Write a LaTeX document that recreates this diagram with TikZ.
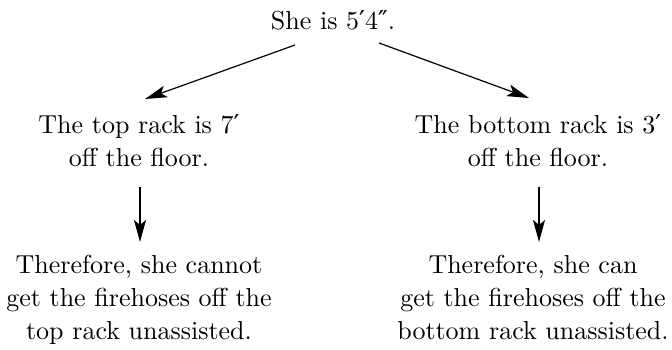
\documentclass[tikz,border=0pt]{standalone}
\usepackage{fontspec}
\setmainfont{lmroman10-regular.otf}
\newfontfamily\symf{DejaVu Serif}
\newcommand{\pr}{{\symf\fontsize{26}{26}\selectfont ′}}
\newcommand{\dpr}{{\symf\fontsize{26}{26}\selectfont ″}}
\usetikzlibrary{arrows.meta}
\begin{document}
\begin{tikzpicture}[x=1pt,y=-1pt,
  txt/.style={inner sep=0pt,align=center,font=\rmfamily\fontsize{26}{33}\selectfont},
  conn/.style={line width=1.2pt,-{Stealth[length=22pt,width=12pt,inset=5pt]}}]
\useasboundingbox (0,0) rectangle (672,350);
\node[txt] (top) at (333,20.5) {She is 5\pr4\dpr.};
\node[txt] (lmid) at (139,140.5) {The top rack is 7\pr\\off the floor.};
\node[txt] (rmid) at (538,140.5) {The bottom rack is 3\pr\\off the floor.};
\node[txt] (lbot) at (139,299.5) {Therefore, she cannot\\get the firehoses off the\\top rack unassisted.};
\node[txt] (rbot) at (533,297) {Therefore, she can\\get the firehoses off the\\bottom rack unassisted.};
\coordinate (a1) at (295,45);
\coordinate (a2) at (145,99);
\coordinate (b1) at (379,43);
\coordinate (b2) at (529,98);
\coordinate (c1) at (140,187);
\coordinate (c2) at (140,242);
\coordinate (d1) at (539,187);
\coordinate (d2) at (539,242);
\draw[conn] (a1) -- (a2);
\draw[conn] (b1) -- (b2);
\draw[conn] (c1) -- (c2);
\draw[conn] (d1) -- (d2);
\end{tikzpicture}
\end{document}
